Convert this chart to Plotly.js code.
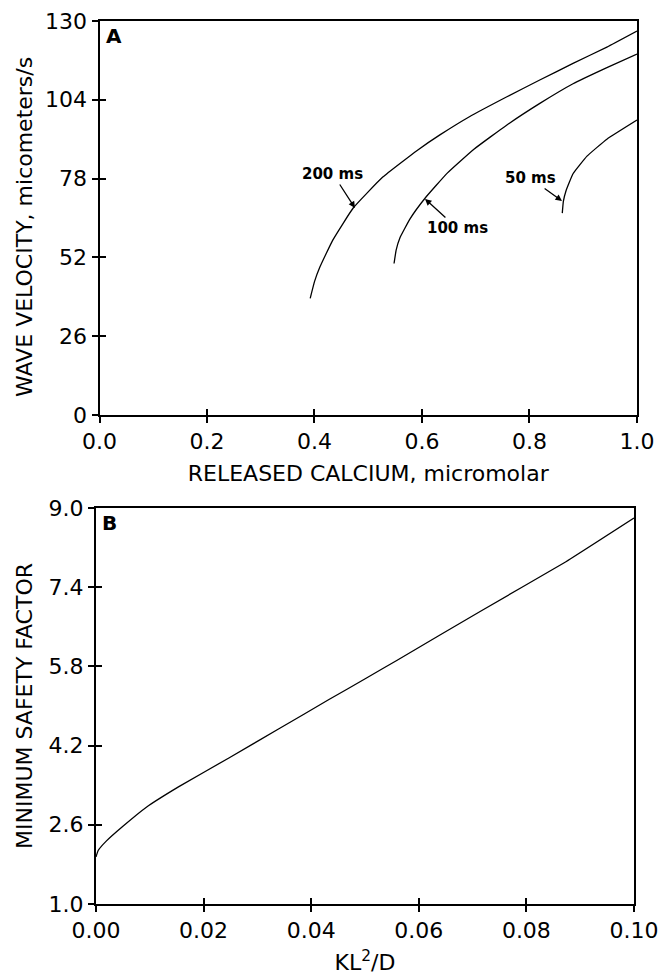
<!DOCTYPE html>
<html>
<head>
<meta charset="utf-8">
<script src="https://cdn.plot.ly/plotly-3.0.1.min.js"></script>
<style>html,body{margin:0;padding:0;background:#fff;}#chart{width:659px;height:980px;}</style>
</head>
<body>
<div id="chart"></div>
<script>
// Panel A: wave velocity vs released calcium
const calcium200 = [0.392, 0.400, 0.410, 0.434, 0.472, 0.527, 0.591, 0.634, 0.689, 0.758, 0.820, 0.881, 0.944, 1.000];
const velocity200 = [38.5, 44.0, 48.8, 57.7, 68.3, 78.5, 87.3, 92.5, 98.5, 105.0, 110.6, 116.0, 121.4, 126.7];
const calcium100 = [0.548, 0.552, 0.559, 0.578, 0.606, 0.647, 0.696, 0.758, 0.820, 0.881, 0.944, 1.000];
const velocity100 = [50.0, 54.5, 58.5, 64.8, 71.6, 79.8, 87.6, 95.7, 102.9, 109.3, 114.6, 119.1];
const calcium50 = [0.861, 0.863, 0.868, 0.881, 0.907, 0.944, 1.000];
const velocity50 = [66.6, 70.5, 74.0, 79.6, 85.4, 91.0, 97.3];
const curveLabels = ["200 ms", "100 ms", "50 ms"];
const xTicksA = [0, 0.2, 0.4, 0.6, 0.8, 1.0];
const yTicksA = [0, 26, 52, 78, 104, 130];

// Panel B: minimum safety factor vs KL^2/D
const kl2d = [0, 0.0004, 0.0019, 0.0050, 0.0093, 0.0154, 0.0247, 0.0340, 0.0433, 0.0502, 0.0559, 0.0714, 0.0868, 0.1];
const safety = [1.95, 2.08, 2.27, 2.57, 2.95, 3.37, 3.95, 4.54, 5.13, 5.56, 5.92, 6.91, 7.88, 8.80];
const xTicksB = [0, 0.02, 0.04, 0.06, 0.08, 0.10];
const yTicksB = [1.0, 2.6, 4.2, 5.8, 7.4, 9.0];

const FONT = "DejaVu Sans, Arial, sans-serif";
const lineStyle = {color: "#000", width: 1.3, shape: "spline", smoothing: 0.35};
const hidden = {mode: "lines", opacity: 0, hoverinfo: "skip", line: {width: 0}};

const traces = [
  {x: calcium200, y: velocity200, xaxis: "x", yaxis: "y", mode: "lines", line: lineStyle, name: curveLabels[0]},
  {x: calcium100, y: velocity100, xaxis: "x", yaxis: "y", mode: "lines", line: lineStyle, name: curveLabels[1]},
  {x: calcium50, y: velocity50, xaxis: "x", yaxis: "y", mode: "lines", line: lineStyle, name: curveLabels[2]},
  {x: kl2d, y: safety, xaxis: "x2", yaxis: "y2", mode: "lines", line: lineStyle, name: "B"},
  // invisible copies that carry the overlaid inner-tick axes
  Object.assign({x: calcium50, y: velocity50, xaxis: "x3", yaxis: "y"}, hidden),
  Object.assign({x: calcium50, y: velocity50, xaxis: "x", yaxis: "y3"}, hidden),
  Object.assign({x: kl2d, y: safety, xaxis: "x4", yaxis: "y2"}, hidden),
  Object.assign({x: kl2d, y: safety, xaxis: "x2", yaxis: "y4"}, hidden)
];

const tickFont = {family: FONT, size: 22, color: "#000"};
const titleFont = {family: FONT, size: 22, color: "#000"};

function mainAxis(ticks, range, extra) {
  return Object.assign({
    range: range, tickmode: "array", tickvals: ticks,
    showline: true, linewidth: 2, linecolor: "#000", mirror: true,
    ticks: "outside", ticklen: 6, tickwidth: 2, tickcolor: "#000",
    showgrid: false, zeroline: false, tickfont: tickFont, fixedrange: true
  }, extra);
}
function innerAxis(ticks, range, extra) {
  return Object.assign({
    range: range, tickmode: "array", tickvals: ticks,
    showline: false, ticks: "inside", ticklen: 6, tickwidth: 2, tickcolor: "#000",
    showticklabels: false, showgrid: false, zeroline: false, fixedrange: true
  }, extra);
}

const layout = {
  width: 659, height: 980,
  margin: {l: 0, r: 0, t: 0, b: 0},
  paper_bgcolor: "#fff", plot_bgcolor: "#fff",
  showlegend: false,
  font: {family: FONT, color: "#000"},
  xaxis: mainAxis(xTicksA, [0, 1], {domain: [0.151, 0.9666], anchor: "y", tickformat: ".1f",
    title: {text: "RELEASED CALCIUM, micromolar", font: titleFont, standoff: 12}}),
  yaxis: mainAxis(yTicksA, [0, 130], {domain: [0.5765, 0.9786], anchor: "x"}),
  xaxis2: mainAxis(xTicksB, [0, 0.1], {domain: [0.1457, 0.962], anchor: "y2", tickformat: ".2f",
    title: {text: "KL<sup>2</sup>/D", font: titleFont, standoff: 12}}),
  yaxis2: mainAxis(yTicksB, [1, 9], {domain: [0.0776, 0.4816], anchor: "x2", tickformat: ".1f",
    title: {text: "MINIMUM SAFETY FACTOR", font: titleFont, standoff: 10}}),
  xaxis3: innerAxis(xTicksA, [0, 1], {overlaying: "x", anchor: "y", side: "bottom"}),
  yaxis3: innerAxis(yTicksA, [0, 130], {overlaying: "y", anchor: "x", side: "left"}),
  xaxis4: innerAxis(xTicksB, [0, 0.1], {overlaying: "x2", anchor: "y2", side: "bottom"}),
  yaxis4: innerAxis(yTicksB, [1, 9], {overlaying: "y2", anchor: "x2", side: "left"}),
  annotations: [
    {text: "WAVE VELOCITY, micometers/s", xref: "paper", yref: "paper", x: 24 / 659, y: 1 - 227 / 980,
     textangle: -90, showarrow: false, xanchor: "center", yanchor: "middle", font: titleFont},
    {text: "<b>A</b>", xref: "x domain", yref: "y domain", x: 0.008, y: 0.997, xanchor: "left", yanchor: "top",
     showarrow: false, font: {family: FONT, size: 20, color: "#000"}},
    {text: "<b>B</b>", xref: "x2 domain", yref: "y2 domain", x: 0.008, y: 0.997, xanchor: "left", yanchor: "top",
     showarrow: false, font: {family: FONT, size: 20, color: "#000"}},
    {text: "<b>" + curveLabels[0] + "</b>", xref: "x", yref: "y", x: 0.4753, y: 68.3, ax: -22, ay: -34,
     showarrow: true, arrowhead: 2, arrowsize: 1, arrowwidth: 1.3, arrowcolor: "#000", standoff: 0,
     font: {family: FONT, size: 15, color: "#000"}},
    {text: "<b>" + curveLabels[1] + "</b>", xref: "x", yref: "y", x: 0.6056, y: 71.3, ax: 32, ay: 29,
     showarrow: true, arrowhead: 2, arrowsize: 1, arrowwidth: 1.3, arrowcolor: "#000", standoff: 0,
     font: {family: FONT, size: 15, color: "#000"}},
    {text: "<b>" + curveLabels[2] + "</b>", xref: "x", yref: "y", x: 0.8605, y: 70.6, ax: -32, ay: -23,
     showarrow: true, arrowhead: 2, arrowsize: 1, arrowwidth: 1.3, arrowcolor: "#000", standoff: 0,
     font: {family: FONT, size: 15, color: "#000"}}
  ]
};

Plotly.newPlot("chart", traces, layout, {staticPlot: true, displayModeBar: false});
</script>
</body>
</html>
